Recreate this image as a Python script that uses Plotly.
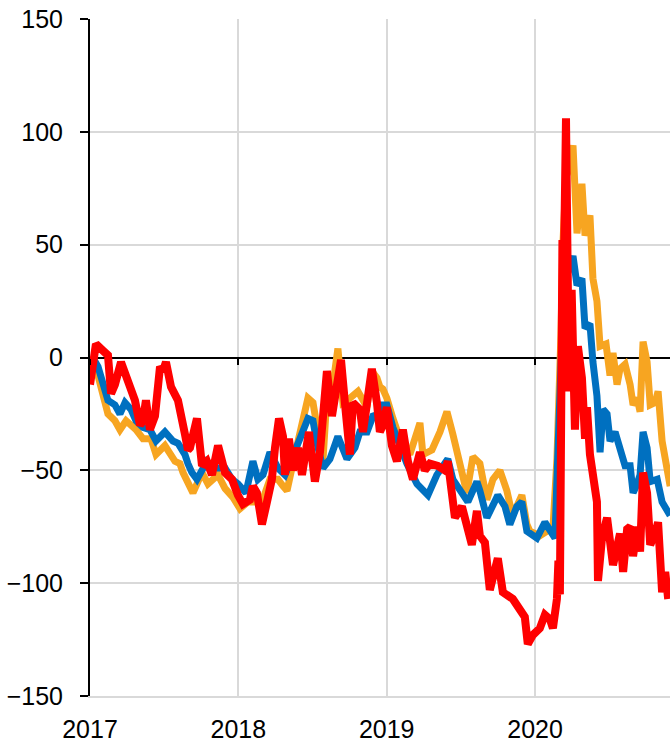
import pandas as pd
import plotly.graph_objects as go

# Positions on the time axis are decimal years (e.g. 2018.5 = mid-2018).
red_t = [2017.000, 2017.040, 2017.088, 2017.121, 2017.142, 2017.168, 2017.209, 2017.256, 2017.276, 2017.303,
         2017.337, 2017.357, 2017.377, 2017.404, 2017.438, 2017.472, 2017.492, 2017.512, 2017.546, 2017.593,
         2017.640, 2017.660, 2017.674, 2017.721, 2017.755, 2017.788, 2017.822, 2017.863, 2017.910, 2017.957,
         2017.997, 2018.031, 2018.078, 2018.098, 2018.125, 2018.159, 2018.193, 2018.226, 2018.247, 2018.274,
         2018.301, 2018.314, 2018.341, 2018.368, 2018.402, 2018.429, 2018.476, 2018.516, 2018.550, 2018.597,
         2018.631, 2018.665, 2018.692, 2018.718, 2018.752, 2018.772, 2018.819, 2018.840, 2018.867, 2018.900,
         2018.934, 2018.954, 2018.974, 2019.001, 2019.035, 2019.069, 2019.109, 2019.143, 2019.177, 2019.224,
         2019.257, 2019.291, 2019.345, 2019.392, 2019.412, 2019.460, 2019.507, 2019.540, 2019.574, 2019.608,
         2019.628, 2019.662, 2019.695, 2019.749, 2019.783, 2019.850, 2019.911, 2019.931, 2019.951, 2019.985,
         2020.032, 2020.066, 2020.100, 2020.120, 2020.147, 2020.157, 2020.167, 2020.177, 2020.184, 2020.194,
         2020.208, 2020.218, 2020.228, 2020.246, 2020.268, 2020.288, 2020.315, 2020.336, 2020.349, 2020.369,
         2020.389, 2020.416, 2020.423, 2020.450, 2020.484, 2020.504, 2020.524, 2020.571, 2020.592, 2020.619,
         2020.639, 2020.659, 2020.686, 2020.706, 2020.726, 2020.753, 2020.774, 2020.807, 2020.827, 2020.854,
         2020.875, 2020.895]
red_v = [-12, 6, 3, 1, -16, -12, -2, -11, -13, -19,
         -30, -28, -19, -32, -26, -4, -6, -2, -13, -19,
         -34, -41, -40, -27, -48, -46, -52, -39, -51, -54,
         -61, -65, -63, -57, -60, -74, -64, -54, -40, -27,
         -35, -52, -36, -50, -40, -52, -33, -55, -42, -6,
         -26, -14, -1, -20, -43, -20, -23, -33, -18, -5,
         -20, -33, -30, -22, -39, -46, -32, -46, -54, -42,
         -50, -47, -48, -50, -46, -71, -66, -76, -83, -68,
         -79, -82, -103, -89, -104, -107, -112, -115, -127, -123,
         -120, -114, -116, -120, -107, -90, -105, -30, 52, 40,
         106, 60, -15, 30, -32, 5, -9, -36, -22, -43,
         -54, -64, -99, -80, -71, -84, -92, -78, -95, -76,
         -75, -88, -75, -86, -51, -60, -83, -78, -73, -104,
         -95, -107]

blue_t = [2017.000, 2017.027, 2017.054, 2017.088, 2017.121, 2017.168, 2017.202, 2017.236, 2017.276, 2017.310,
          2017.357, 2017.404, 2017.445, 2017.505, 2017.559, 2017.593, 2017.640, 2017.660, 2017.687, 2017.721,
          2017.788, 2017.842, 2017.910, 2017.957, 2017.997, 2018.051, 2018.098, 2018.132, 2018.166, 2018.213,
          2018.267, 2018.314, 2018.368, 2018.415, 2018.469, 2018.503, 2018.530, 2018.570, 2018.617, 2018.671,
          2018.732, 2018.786, 2018.819, 2018.867, 2018.907, 2018.954, 2018.974, 2019.001, 2019.042, 2019.089,
          2019.136, 2019.204, 2019.278, 2019.338, 2019.379, 2019.412, 2019.446, 2019.507, 2019.547, 2019.608,
          2019.628, 2019.675, 2019.749, 2019.797, 2019.830, 2019.877, 2019.911, 2019.945, 2020.012, 2020.066,
          2020.100, 2020.134, 2020.147, 2020.161, 2020.174, 2020.187, 2020.208, 2020.235, 2020.255, 2020.282,
          2020.315, 2020.336, 2020.369, 2020.389, 2020.416, 2020.437, 2020.457, 2020.484, 2020.504, 2020.538,
          2020.571, 2020.605, 2020.639, 2020.659, 2020.686, 2020.706, 2020.726, 2020.753, 2020.774, 2020.821,
          2020.854, 2020.888, 2020.908]
blue_v = [-2, -1, -4, -13, -19, -21, -25, -20, -23, -28,
          -31, -32, -37, -33, -37, -38, -43, -47, -51, -54,
          -46, -49, -49, -54, -56, -60, -46, -54, -52, -42,
          -49, -52, -44, -36, -27, -28, -38, -49, -45, -35,
          -45, -40, -33, -33, -26, -25, -21, -21, -31, -39,
          -47, -56, -61, -52, -48, -45, -54, -60, -64, -55,
          -59, -71, -61, -66, -74, -66, -64, -77, -80, -73,
          -77, -80, -54, -30, 0, 20, 35, 40, 45, 32,
          35, 13, 15, -2, -17, -42, -23, -25, -37, -33,
          -42, -48, -48, -60, -56, -52, -33, -40, -55, -54,
          -64, -67, -70]

orange_t = [2017.000, 2017.027, 2017.054, 2017.088, 2017.121, 2017.168, 2017.202, 2017.243, 2017.310, 2017.357,
            2017.411, 2017.445, 2017.505, 2017.573, 2017.606, 2017.627, 2017.660, 2017.694, 2017.755, 2017.795,
            2017.863, 2017.910, 2017.964, 2018.011, 2018.065, 2018.159, 2018.213, 2018.267, 2018.301, 2018.328,
            2018.368, 2018.415, 2018.469, 2018.503, 2018.530, 2018.570, 2018.604, 2018.638, 2018.671, 2018.705,
            2018.752, 2018.806, 2018.867, 2018.900, 2018.934, 2018.954, 2018.974, 2019.001, 2019.042, 2019.089,
            2019.156, 2019.224, 2019.244, 2019.305, 2019.359, 2019.406, 2019.446, 2019.493, 2019.540, 2019.581,
            2019.628, 2019.675, 2019.716, 2019.763, 2019.810, 2019.844, 2019.877, 2019.911, 2019.945, 2019.965,
            2020.032, 2020.079, 2020.120, 2020.147, 2020.161, 2020.174, 2020.187, 2020.208, 2020.235, 2020.255,
            2020.282, 2020.315, 2020.336, 2020.369, 2020.389, 2020.416, 2020.437, 2020.477, 2020.504, 2020.524,
            2020.551, 2020.571, 2020.605, 2020.639, 2020.659, 2020.686, 2020.706, 2020.726, 2020.753, 2020.774,
            2020.807, 2020.827, 2020.854, 2020.875, 2020.908]
orange_v = [-6, -4, -8, -16, -25, -28, -32, -28, -32, -36,
            -36, -43, -39, -46, -47, -51, -56, -60, -51, -56,
            -52, -58, -62, -67, -64, -64, -54, -54, -57, -59,
            -47, -34, -18, -20, -31, -46, -10, -12, 4, -20,
            -18, -15, -22, -6, -9, -13, -14, -18, -27, -36,
            -43, -29, -43, -41, -33, -24, -34, -47, -60, -44,
            -47, -63, -54, -50, -59, -69, -66, -61, -74, -77,
            -79, -77, -76, -45, -20, 10, 50, 80, 85, 94,
            55, 77, 54, 63, 35, 25, 5, 6, -8, 2,
            -12, -5, -3, -12, -21, -18, -24, 7, -2, -21,
            -20, -15, -37, -46, -57]

year_ticks = ["2017", "2018", "2019", "2020"]
y_ticks = [-150, -100, -50, 0, 50, 100, 150]


def to_dates(years):
    out = []
    for y in years:
        yr = int(y)
        start = pd.Timestamp(year=yr, month=1, day=1)
        span = (pd.Timestamp(year=yr + 1, month=1, day=1) - start).days
        out.append(start + pd.Timedelta(days=(y - yr) * span))
    return out


GRID = "#d9d9d9"
FONT = "Liberation Sans, Arial, sans-serif"

fig = go.Figure()
fig.add_trace(go.Scatter(x=to_dates(orange_t), y=orange_v, mode="lines",
                         line=dict(color="#F7A521", width=7), showlegend=False))
fig.add_trace(go.Scatter(x=to_dates(blue_t), y=blue_v, mode="lines",
                         line=dict(color="#0070C0", width=7), showlegend=False))
fig.add_trace(go.Scatter(x=to_dates(red_t), y=red_v, mode="lines",
                         line=dict(color="#FF0000", width=8), showlegend=False))
# empty trace so the tick-only axis along the zero line is drawn
fig.add_trace(go.Scatter(x=[], y=[], xaxis="x2", showlegend=False))

x_range = ["2017-01-01", "2020-11-28"]
tick_vals = [pd.Timestamp(f"{y}-01-01") for y in year_ticks]

fig.update_layout(
    width=670, height=743,
    margin=dict(l=90, r=0, t=19, b=38, pad=0),
    plot_bgcolor="white", paper_bgcolor="white",
    font=dict(family=FONT, size=25, color="black"),
    xaxis=dict(
        type="date", range=x_range,
        tickvals=tick_vals, ticktext=year_ticks,
        showgrid=True, gridcolor=GRID, gridwidth=2,
        showline=True, linecolor=GRID, linewidth=2,
        ticks="", ticklabelstandoff=10,
        zeroline=False,
    ),
    xaxis2=dict(
        type="date", range=x_range, overlaying="x", anchor="free", position=0.5,
        tickvals=tick_vals, showticklabels=False,
        ticks="outside", ticklen=6, tickwidth=2, tickcolor="black",
        showgrid=False, showline=False, zeroline=False,
    ),
    yaxis=dict(
        range=[-150, 150], tickvals=y_ticks,
        showgrid=True, gridcolor=GRID, gridwidth=2,
        zeroline=True, zerolinecolor="black", zerolinewidth=2,
        showline=True, linecolor="black", linewidth=2,
        ticks="outside", ticklen=8, tickwidth=2, tickcolor="black",
        ticklabelstandoff=12,
    ),
)

fig.write_html("out.html")
